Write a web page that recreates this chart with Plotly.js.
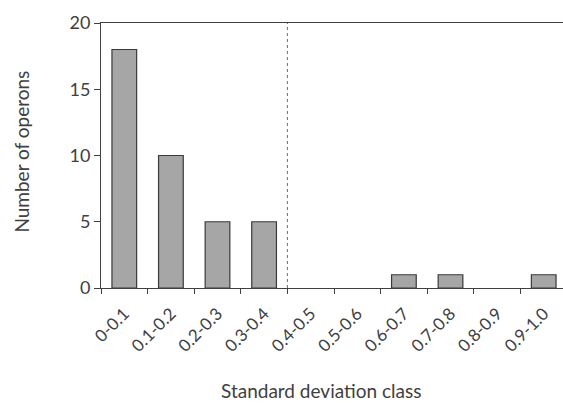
<!DOCTYPE html>
<html>
<head>
<meta charset="utf-8">
<script src="https://cdn.plot.ly/plotly-3.0.1.min.js"></script>
<style>html,body{margin:0;padding:0;background:#fff;}#chart{width:563px;height:403px;}</style>
</head>
<body>
<div id="chart"></div>
<script>
const categories = ["0-0.1","0.1-0.2","0.2-0.3","0.3-0.4","0.4-0.5","0.5-0.6","0.6-0.7","0.7-0.8","0.8-0.9","0.9-1.0"];
const operonCounts = [18, 10, 5, 5, 0, 0, 1, 1, 0, 1];
const yTicks = [0, 5, 10, 15, 20];
const thresholdPosition = 3.5;
const xTitle = "Standard deviation class";
const yTitle = "Number of operons";

const axisColor = "#404040";
const textColor = "#404040";
const fontFamily = "Lato, 'Open Sans', sans-serif";

// empty classes draw no visible bar (no outline at zero)
const trace = {
  type: "bar",
  x: categories,
  y: operonCounts.map(v => (v === 0 ? null : v)),
  width: 0.53,
  marker: {color: "#a6a6a6", line: {color: "#3a3a3a", width: 1.2}},
  hoverinfo: "x+y"
};

const layout = {
  width: 563,
  height: 403,
  margin: {l: 101, r: 0, t: 23, b: 115},
  paper_bgcolor: "#ffffff",
  plot_bgcolor: "#ffffff",
  showlegend: false,
  font: {family: fontFamily, color: textColor, size: 17},
  xaxis: {
    type: "category",
    range: [-0.5, 9.414],
    tickson: "boundaries",
    ticks: "outside",
    ticklen: 5,
    tickwidth: 1,
    tickcolor: axisColor,
    tickangle: -45,
    ticklabelstandoff: 8,
    tickfont: {family: fontFamily, size: 17, color: textColor},
    showline: true,
    linecolor: axisColor,
    linewidth: 1,
    mirror: true,
    showgrid: false,
    zeroline: false,
    fixedrange: true
  },
  yaxis: {
    range: [0, 20],
    tickvals: yTicks,
    ticktext: yTicks.map(String),
    ticks: "outside",
    ticklen: 6,
    tickwidth: 1,
    tickcolor: axisColor,
    tickfont: {family: fontFamily, size: 18, color: textColor},
    showline: true,
    linecolor: axisColor,
    linewidth: 1,
    showgrid: false,
    zeroline: false,
    fixedrange: true
  },
  shapes: [{
    type: "line",
    xref: "x", yref: "y",
    x0: thresholdPosition, x1: thresholdPosition,
    y0: 0, y1: 20,
    line: {color: "#6a6a6a", width: 1, dash: "3px,3px"}
  }],
  annotations: [
    {
      text: xTitle,
      xref: "paper", yref: "paper",
      x: 0.476, y: -0.387,
      xanchor: "center", yanchor: "middle",
      showarrow: false,
      font: {family: fontFamily, size: 19, color: textColor}
    },
    {
      text: yTitle,
      xref: "paper", yref: "paper",
      x: -0.173, y: 0.515,
      xanchor: "center", yanchor: "middle",
      textangle: -90,
      showarrow: false,
      font: {family: fontFamily, size: 19, color: textColor}
    }
  ]
};

Plotly.newPlot("chart", [trace], layout, {staticPlot: true, displayModeBar: false});
</script>
</body>
</html>
